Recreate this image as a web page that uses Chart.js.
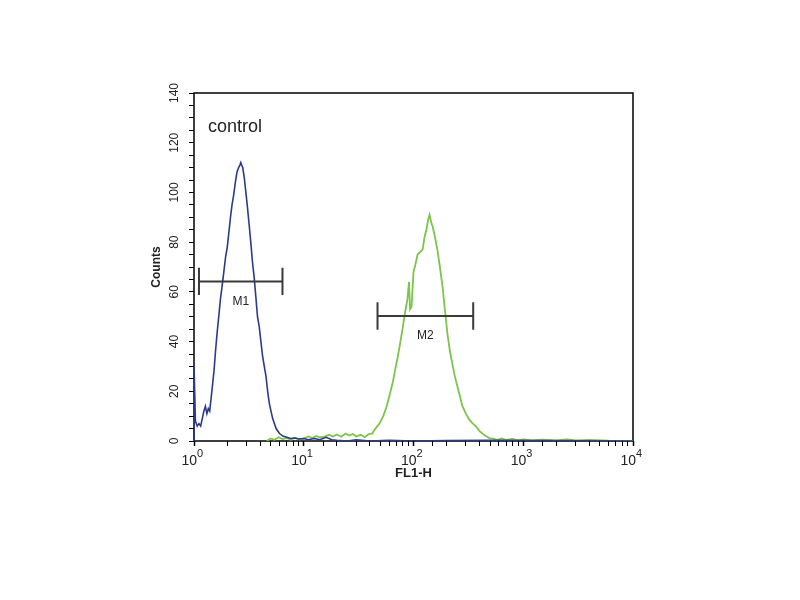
<!DOCTYPE html>
<html>
<head>
<meta charset="utf-8">
<script src="https://cdn.jsdelivr.net/npm/chart.js@4.4.1/dist/chart.umd.min.js"></script>
<style>
  html, body { margin: 0; padding: 0; background: #fff; }
  #wrap { width: 800px; height: 600px; }
</style>
</head>
<body>
<div id="wrap"><canvas id="chart" width="800" height="600"></canvas></div>
<script>
// control histogram (blue), FL1-H channel value vs counts
const blueFL = [1.0, 1.0, 1.03, 1.07, 1.11, 1.15, 1.19, 1.23, 1.27, 1.31, 1.35, 1.39, 1.43, 1.47,
  1.52, 1.57, 1.62, 1.68, 1.74, 1.80, 1.87, 1.94, 2.01, 2.08, 2.15, 2.22, 2.30, 2.38, 2.46,
  2.55, 2.62, 2.67, 2.72, 2.78, 2.87, 2.97, 3.07, 3.18, 3.29, 3.41, 3.53, 3.66, 3.79, 3.93,
  4.07, 4.22, 4.37, 4.53, 4.69, 4.86, 5.03, 5.21, 5.40, 5.60, 5.80, 6.01, 6.45, 7.0, 7.6,
  8.3, 9.0, 10, 11, 12.5, 14, 16, 18, 20, 25, 30, 40, 60, 100, 200, 500, 10000];
const blueCounts = [0, 31, 8, 6, 7, 6, 9, 12, 14, 11, 13, 12, 17, 22,
  28, 36, 43, 50, 57, 62, 68, 74, 78, 84, 90, 95, 99, 104, 108,
  110, 111, 112, 111, 110, 106, 100, 94, 87, 80, 72, 66, 58, 50, 46,
  40, 34, 30, 26, 20, 15, 12, 9, 7, 5, 4, 3, 2, 1.5, 1,
  1.2, 0.8, 1, 0.5, 1, 0.5, 1.5, 0.5, 0.3, 0, 0.5, 0, 0.3, 0, 0.2, 0.3, 0];

// stained sample histogram (green)
const greenFL = [4.6, 5.0, 5.4, 5.9, 6.4, 7.0, 7.6, 8.3, 9.1, 10, 11, 12, 13, 14, 15.5, 17,
  18.5, 20, 22, 24, 26, 28, 30, 33, 36, 39, 42, 45, 49, 53, 57, 61, 65, 69, 72, 76, 80,
  84, 88, 91, 93, 96, 100, 104, 109, 115, 121, 126, 131, 136, 140, 145, 150, 157, 165,
  174, 184, 194, 204, 215, 226, 238, 251, 265, 279, 300, 323, 348, 374, 400, 424, 455,
  491, 530, 580, 640, 700, 800, 900, 1000, 1200, 1500, 2000, 2500, 3000, 4000, 6000, 10000];
const greenCounts = [0, 1, 0.5, 1.5, 0.8, 1.2, 0.5, 1.3, 0.7, 1, 1.8, 1.2, 2, 1.5, 1.8, 2.5,
  1.8, 2.6, 1.7, 3, 2.2, 2.8, 1.8, 2.5, 1.5, 2.8, 3, 5, 7, 10, 14, 19, 24, 30, 34, 40, 46,
  52, 57, 64, 53, 54, 68, 71, 75, 76, 77, 82, 85, 89, 91, 88, 86, 82, 77,
  70, 62, 52, 43, 36, 31, 26, 22, 18, 14, 11, 8.5, 7, 5.7, 4, 3, 2,
  1.2, 1, 0.5, 1, 0.4, 0.8, 0.3, 0.6, 0.2, 0.5, 0.2, 0.6, 0.2, 0.4, 0.1, 0];

// range markers
const markerNames = ['M1', 'M2'];
const markerLo = [1.11, 47];
const markerHi = [6.4, 350];
const markerLevel = [64.2, 50.3];

// axis ticks
const countTicks = [0, 20, 40, 60, 80, 100, 120, 140];
const decadeTicks = [1, 10, 100, 1000, 10000];
const decadeExp = ['0', '1', '2', '3', '4'];

const FONT = '"Liberation Sans", Arial, sans-serif';
const INK = '#222';

const toPoints = (xs, ys) => xs.map((x, i) => ({x, y: ys[i]}));

function markerPoints(i) {
  const cap = 5.5;
  return [
    {x: markerLo[i], y: markerLevel[i] - cap}, {x: markerLo[i], y: markerLevel[i] + cap},
    {x: markerLo[i], y: null},
    {x: markerLo[i], y: markerLevel[i]}, {x: markerHi[i], y: markerLevel[i]},
    {x: markerHi[i], y: null},
    {x: markerHi[i], y: markerLevel[i] - cap}, {x: markerHi[i], y: markerLevel[i] + cap}
  ];
}

const markerSets = markerNames.map((name, i) => ({
  label: name,
  data: markerPoints(i),
  borderColor: '#3a3a3a',
  borderWidth: 2,
  pointRadius: 0,
  spanGaps: false
}));

// frame under the curves, then rotated y labels, superscript x labels, annotations
const decorations = {
  id: 'decorations',
  beforeDatasetsDraw(chart) {
    const {ctx, chartArea: a} = chart;
    ctx.save();
    ctx.strokeStyle = '#000';
    ctx.lineWidth = 1.5;
    ctx.strokeRect(a.left, a.top, a.right - a.left, a.bottom - a.top);
    ctx.restore();
  },
  afterDraw(chart) {
    const {ctx, chartArea: a, scales: {x, y}} = chart;
    ctx.save();
    ctx.fillStyle = INK;
    ctx.textAlign = 'center';
    ctx.textBaseline = 'middle';
    ctx.font = '12px ' + FONT;
    countTicks.forEach(v => {
      ctx.save();
      ctx.translate(a.left - 19, y.getPixelForValue(v));
      ctx.rotate(-Math.PI / 2);
      ctx.fillText(String(v), 0, 0);
      ctx.restore();
    });

    decadeTicks.forEach((v, i) => {
      const px = x.getPixelForValue(v);
      ctx.font = '14px ' + FONT;
      ctx.textAlign = 'right';
      ctx.fillText('10', px + 3, a.bottom + 20);
      ctx.textAlign = 'left';
      ctx.font = '11px ' + FONT;
      ctx.fillText(decadeExp[i], px + 3, a.bottom + 13);
    });

    ctx.textAlign = 'left';
    ctx.font = '18px ' + FONT;
    ctx.fillText('control', a.left + 14, a.top + 34);

    ctx.textAlign = 'center';
    ctx.font = '12px ' + FONT;
    markerNames.forEach((name, i) => {
      const mid = Math.sqrt(markerLo[i] * markerHi[i]);
      ctx.fillText(name, x.getPixelForValue(mid), y.getPixelForValue(markerLevel[i]) + 20);
    });
    ctx.restore();
  }
};

new Chart(document.getElementById('chart'), {
  type: 'line',
  data: {
    datasets: [
      ...markerSets,
      {
        label: 'control',
        data: toPoints(blueFL, blueCounts),
        borderColor: '#2c3a8e',
        borderWidth: 1.6,
        pointRadius: 0
      },
      {
        label: 'sample',
        data: toPoints(greenFL, greenCounts),
        borderColor: '#7cc44c',
        borderWidth: 1.8,
        pointRadius: 0
      }
    ]
  },
  options: {
    responsive: false,
    animation: false,
    devicePixelRatio: 1,
    layout: {padding: {left: 140, right: 167, top: 93, bottom: 114}},
    plugins: {legend: {display: false}, tooltip: {enabled: false}},
    scales: {
      x: {
        type: 'logarithmic',
        min: 1,
        max: 10000,
        border: {display: false},
        grid: {drawOnChartArea: false, tickLength: 5, tickColor: '#000',
          tickWidth: c => (c.tick && c.tick.major ? 1.5 : 1)},
        ticks: {display: false, autoSkip: false, major: {enabled: true}},
        title: {display: true, text: 'FL1-H', color: INK,
          font: {family: FONT, size: 13, weight: 'bold'}, padding: {top: 0, bottom: 5}},
        afterFit: s => { s.height = 45; }
      },
      y: {
        type: 'linear',
        min: 0,
        max: 140,
        border: {display: false},
        grid: {drawOnChartArea: false, tickLength: 5, tickColor: '#000'},
        ticks: {display: false, stepSize: 5, autoSkip: false},
        title: {display: true, text: 'Counts', color: INK,
          font: {family: FONT, size: 12, weight: 'bold'}, padding: {top: 9, bottom: 0}},
        afterFit: s => { s.width = 54; }
      }
    }
  },
  plugins: [decorations]
});
</script>
</body>
</html>
